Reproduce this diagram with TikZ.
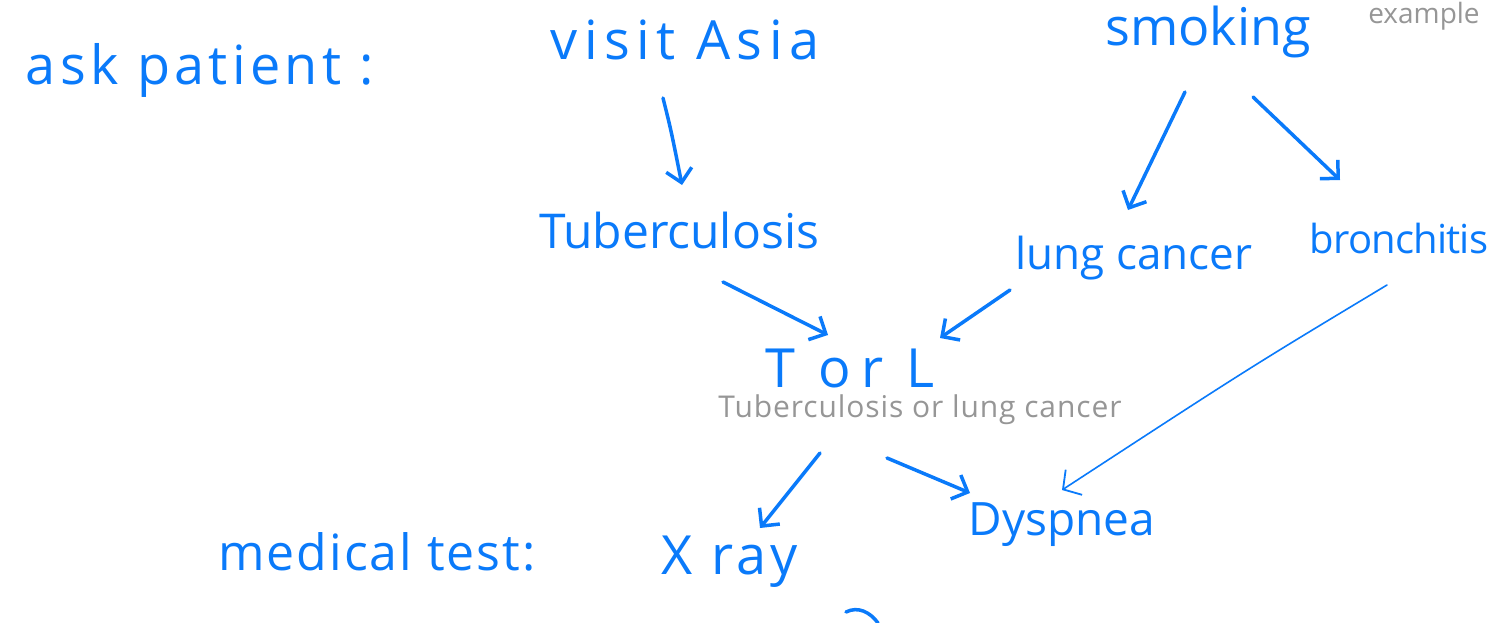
\documentclass[tikz,border=0pt]{standalone}
\usepackage{fontspec}
\setmainfont{Open Sans}
\usetikzlibrary{arrows.meta,calc}
\definecolor{ink}{RGB}{10,122,250}
\definecolor{pencil}{RGB}{150,150,150}
\newcommand{\hw}[2]{\fontsize{#1}{#1}\selectfont\addfontfeature{LetterSpace=#2}}
\tikzset{
  lbl/.style={text=ink, inner sep=0pt, anchor=center},
  note/.style={text=pencil, inner sep=0pt, anchor=center},
  arr/.style={draw=ink, line width=3.5pt, line cap=round, line join=round,
    -{Straight Barb[length=13pt,width=26pt,line width=3.5pt]}},
  thinarr/.style={draw=ink, line width=1.6pt, line cap=round, line join=round,
    -{Straight Barb[length=13pt,width=30pt,line width=1.8pt]}}
}
\begin{document}
\begin{tikzpicture}[x=1pt,y=-1pt]
\useasboundingbox (0,0) rectangle (1494,623);
% labels
\node[lbl, font=\hw{54}{8}]  (ask) at (200,70)  {ask patient :};
\node[lbl, font=\hw{54}{12}] (vis) at (685,40)  {visit Asia};
\node[lbl, font=\hw{52}{0}]  (smk) at (1208,32) {smoking};
\node[note, font=\hw{28}{0}] (ex)  at (1424,16) {example};
\node[lbl, font=\hw{48}{0}]  (tub) at (679,230) {Tuberculosis};
\node[lbl, font=\hw{44}{0}]  (lc)  at (1134,258) {lung cancer};
\node[lbl, font=\hw{40}{-2}] (bro) at (1399,238) {bronchitis};
\node[lbl, font=\hw{54}{18}] (tol) at (850,368) {T or L};
\node[note, font=\hw{30}{3}] (tolx) at (920,410) {Tuberculosis or lung cancer};
\node[lbl, font=\hw{50}{4}]  (med) at (377,552) {medical test:};
\node[lbl, font=\hw{54}{8}]  (xr)  at (730,562) {X ray};
\node[lbl, font=\hw{46}{0}]  (dys) at (1062,525) {Dyspnea};
% connectors
\draw[arr] ($(vis)+(-22,58)$) .. controls ($(vis)+(-14,90)$) .. ($(tub)+(3,-45)$);
\draw[arr] ($(smk)+(-23,60)$) -- ($(lc)+(-6,-48)$);
\draw[arr] ($(smk)+(45,65)$) -- ($(bro)+(-59,-58)$);
\draw[arr] ($(tub)+(44,52)$) -- ($(tol)+(-22,-33)$);
\draw[arr] ($(lc)+(-124,32)$) -- ($(tol)+(90,-30)$);
\draw[arr] ($(tol)+(-30,85)$) -- ($(xr)+(30,-34)$);
\draw[arr] ($(tol)+(37,90)$) -- ($(dys)+(-92,-32)$);
\draw[thinarr] ($(bro)+(-12,47)$) .. controls ($(bro)+(-150,130)$) .. ($(dys)+(0,-35)$);
% stray pen stroke at the lower edge
\begin{scope}
\clip (0,0) rectangle (1494,623);
\draw[ink, line width=3.5pt, line cap=round] (846,612) .. controls (858,606) and (870,612) .. (878,623);
\end{scope}
\end{tikzpicture}
\end{document}
